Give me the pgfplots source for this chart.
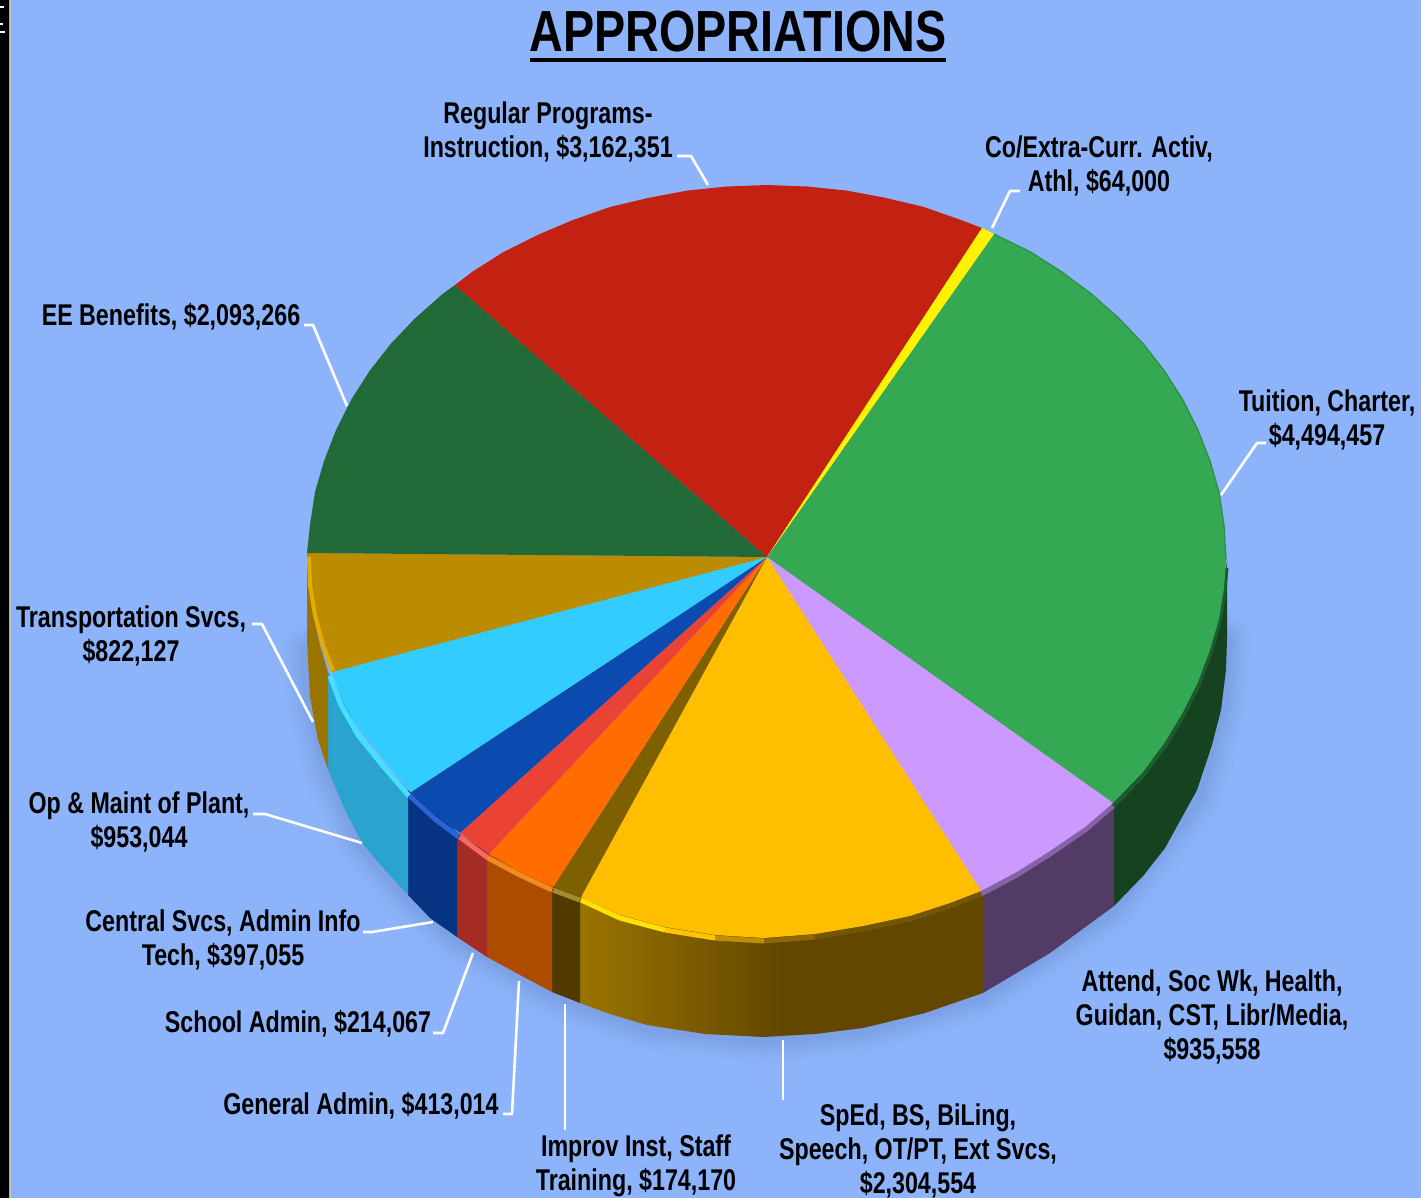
\documentclass[border=0pt]{standalone}
\usepackage{pgfplots}
\pgfplotsset{compat=1.18}
\usepackage{fontspec}
\newfontfamily\lab[FakeStretch=0.775]{Liberation Sans}
\newfontfamily\ttl[FakeStretch=0.805]{Liberation Sans}
\definecolor{bg}{HTML}{8DB4FA}
\definecolor{shad}{HTML}{3A5A9A}
\definecolor{fgreen}{HTML}{34A853}\definecolor{sgreen}{HTML}{15431F}
\definecolor{fpurple}{HTML}{CC99FF}\definecolor{spurple}{HTML}{523C66}
\definecolor{fgold}{HTML}{FFBF00}\definecolor{sgoldA}{HTML}{9A7400}\definecolor{sgoldB}{HTML}{634700}
\definecolor{fbrown}{HTML}{7F6000}\definecolor{sbrown}{HTML}{503A00}
\definecolor{forange}{HTML}{FF6D00}\definecolor{sorange}{HTML}{AD4C00}
\definecolor{fred}{HTML}{EA4335}\definecolor{sred}{HTML}{A52C24}
\definecolor{fblue}{HTML}{0B4BB0}\definecolor{sblue}{HTML}{063483}
\definecolor{fcyan}{HTML}{33CCFF}\definecolor{scyan}{HTML}{2AA3CF}
\definecolor{fdgold}{HTML}{BC8C00}\definecolor{sdgold}{HTML}{9A7400}
\definecolor{fdgreen}{HTML}{216A37}
\definecolor{fcrim}{HTML}{C32212}
\definecolor{rcyan}{HTML}{45E0FF}\definecolor{rblue}{HTML}{2A62D8}\definecolor{rorange}{HTML}{F08C1E}\definecolor{rred}{HTML}{F56A5E}\definecolor{rbrown}{HTML}{A58A30}
\newcommand\poly[2]{\addplot[fill=#1,draw=none] coordinates {#2} --cycle;}
\newcommand\rim[2]{\addplot[draw=#1,line width=5pt,line join=round] coordinates {#2};}
\newcommand\leader[1]{\addplot[draw=white,line width=2.6pt,line join=round] coordinates {#1};}
\newcommand\shadow[2]{\addplot[draw=shad,opacity=#2,line width=#1,line join=round,line cap=round] coordinates {(309,650)(312,697)(330,770)(364,843)(410,895)(459,937)(554,992)(649,1025)(764,1037)(861,1028)(981,993)(1112,906)(1195,798)(1221,700)(1225,640)};}
\newcommand\lbl[3]{\node[align=center,inner sep=0pt,font=\lab\bfseries\fontsize{30}{34}\selectfont] at (axis cs:#1,#2) {#3};}
\begin{document}
\begin{tikzpicture}
\begin{axis}[scale only axis,width=1421pt,height=1198pt,xmin=0,xmax=1421,ymin=0,ymax=1198,y dir=reverse,axis lines=none,clip=true]
% background and left strip
\poly{bg}{(0,0)(1421,0)(1421,1198)(0,1198)}
\poly{black}{(0,0)(9,0)(9,1198)(0,1198)}
\addplot[draw=lightgray,line width=1pt] coordinates {(10,0)(10,1198)};
\addplot[draw=white,line width=2.5pt] coordinates {(0,7)(4,7)};
\addplot[draw=white,line width=2.5pt] coordinates {(0,24)(3,24)};
\addplot[draw=white,line width=2pt] coordinates {(0,32)(5,32)};
% soft shadow
\shadow{56pt}{0.02}
\shadow{48pt}{0.025}
\shadow{40pt}{0.03}
\shadow{32pt}{0.035}
\shadow{24pt}{0.04}
\shadow{16pt}{0.05}
% sides
\poly{sgreen}{(1227,560)(1227,640)(1226,670)(1221,710)(1212,745)(1197,790)(1165,848)(1143,876)(1114,906)(1114,800)(1143,772)(1183,712)(1210,650)(1224,588)}
\poly{spurple}{(1114,800)(1050,846)(983,888)(983,993)(1050,953)(1114,906)}
\poly{sgoldB}{(780,930)(863,925)(983,888)(983,993)(925,1013)(863,1028)(815,1034)(780,1036)}
\addplot[draw=none,left color=sgoldA,right color=sgoldB] coordinates {(580,895)(647,922)(700,932)(781,930)(781,1036)(764,1037)(705,1034)(647,1025)(610,1014)(580,1003)} --cycle;
\poly{sbrown}{(552,885)(580,895)(580,1003)(552,992)}
\poly{sorange}{(487,852)(520,870)(552,885)(552,992)(520,975)(487,957)}
\poly{sred}{(457,832)(487,852)(487,957)(457,937)}
\poly{sblue}{(408,790)(435,812)(457,832)(457,937)(430,918)(408,895)}
\poly{scyan}{(328,672)(345,703)(360,735)(385,765)(408,790)(408,895)(385,870)(362,843)(345,810)(328,770)}
\poly{sdgold}{(307,553)(307,640)(310,697)(318,740)(328,770)(328,672)(320,645)(312,610)}
% rim highlights
\rim{fgreen!55!black}{(1226,568)(1224,591)(1219,622)(1210,653)(1198,685)(1183,715)(1165,745)(1143,775)(1113,806)}
\rim{fpurple!65!black}{(1113,806)(1085,830)(1050,854)(1015,876)(981,894)}
\rim{fgold!45!black}{(981,894)(950,906)(910,919)(863,929)(815,937)}
\rim{fgold!55!black}{(815,937)(764,941)}
\rim{fgold!75!black}{(764,941)(715,938)}
\rim{fgold!92!yellow}{(715,938)(665,930)}
\rim{fgold!45!yellow}{(665,930)(620,918)(581,900)}
\rim{rbrown}{(580,900)(553,890)}
\rim{rorange}{(552,890)(520,875)(488,858)}
\rim{rred}{(488,858)(460,837)}
\rim{rblue}{(459,837)(435,819)(410,796)}
\rim{rcyan}{(409,796)(383,766)(358,735)(341,705)(330,676)}
% faces
\poly{fgreen}{(767,557)(994,234)(1030.5,252)(1062,272)(1091.5,294)(1118.6,318)(1143,343.5)(1164.5,371)(1183,400)(1198,430)(1210,461)(1219,492)(1224,525)(1226,560)(1224,588)(1219,619)(1210,650)(1198,682)(1183,712)(1165,742)(1143,772)(1113,803)}
\poly{fpurple}{(767,557)(1113,803)(1085,827)(1050,851)(1015,873)(981,891)}
\poly{fgold}{(767,557)(981,891)(950,903)(910,916)(863,926)(815,934)(764,938)(715,935)(665,927)(620,915)(581,897)}
\poly{fbrown}{(767,557)(581,897)(553,887)}
\poly{forange}{(767,557)(553,887)(520,872)(489,854)}
\poly{fred}{(767,557)(489,854)(460,833)}
\poly{fblue}{(767,557)(460,833)(435,815)(411,792)}
\poly{fcyan}{(767,557)(411,792)(385,762)(360,731)(343,702)(332,672)}
\poly{fdgold}{(767,557)(332,672)(322,645)(313,615)(309,585)(307,553)}
\poly{fdgreen}{(767,557)(307,553)(310,525)(315,492)(324,461)(336,430)(351,400)(369.5,371)(391,343.5)(415.4,318)(442.5,294)(455,285)}
\poly{fcrim}{(767,557)(455,285)(472,272)(503.5,252)(537.5,235)(573,220)(610,207)(648,198)(687,190.6)(727,186.5)(767,185)(807,186.5)(847,190.6)(886,198)(924,207)(961,220)(982,228)}
\poly{yellow}{(767,557)(982,228)(994,234)}
\addplot[draw=fgreen!85!black,line width=1.2pt] coordinates {(994,234)(1030.5,252)(1062,272)(1091.5,294)(1118.6,318)(1143,343.5)(1164.5,371)(1183,400)(1198,430)(1210,461)(1219,492)(1224,525)(1226,560)};
\addplot[draw=fgold!90!black,line width=4pt,line join=round] coordinates {(309,557)(310,585)(315,615)(323,645)(333,671)};
% leaders
\leader{(677,156)(691,156)(708,185)}
\leader{(1020,191)(1010,191)(992,228)}
\leader{(1266,443)(1257,443)(1221,495)}
\leader{(304,325)(313,325)(347,406)}
\leader{(252,624)(262,624)(313,722)}
\leader{(253,814)(265,814)(362,843)}
\leader{(363,932)(372,932)(433,922)}
\leader{(433,1033)(443,1033)(473,953)}
\leader{(503,1114)(512,1114)(519,981)}
\leader{(565,1130)(565,1004)}
\leader{(783,1100)(783,1040)}
% title
\node[inner sep=0pt,font=\ttl\bfseries\fontsize{58}{60}\selectfont] at (axis cs:738,32) {APPROPRIATIONS};
\addplot[draw=black,line width=4pt] coordinates {(530,60)(946,60)};
% labels
\lbl{548}{131.5}{Regular Programs-\\Instruction, \$3,162,351}
\lbl{1099}{165.5}{Co/Extra-Curr. Activ,\\Athl, \$64,000}
\lbl{1327}{419.5}{Tuition, Charter,\\\$4,494,457}
\lbl{171}{316.5}{EE Benefits, \$2,093,266}
\lbl{131}{635.5}{Transportation Svcs,\\\$822,127}
\lbl{139}{821.5}{Op \& Maint of Plant,\\\$953,044}
\lbl{223}{939.5}{Central Svcs, Admin Info\\Tech, \$397,055}
\lbl{298}{1023.5}{School Admin, \$214,067}
\lbl{361}{1105.5}{General Admin, \$413,014}
\lbl{636}{1166}{Improv Inst, Staff\\Training, \$174,170}
\lbl{918}{1151}{SpEd, BS, BiLing,\\Speech, OT/PT, Ext Svcs,\\\$2,304,554}
\lbl{1212}{1016.5}{Attend, Soc Wk, Health,\\Guidan, CST, Libr/Media,\\\$935,558}
\end{axis}
\end{tikzpicture}
\end{document}
